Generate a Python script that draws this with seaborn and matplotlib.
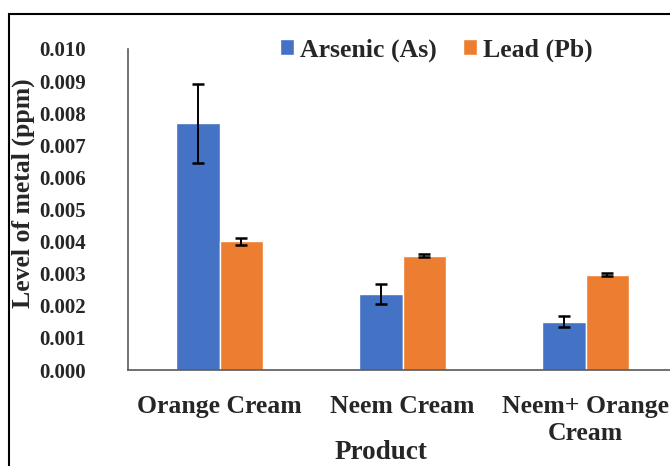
import matplotlib
matplotlib.use("Agg")
import matplotlib.pyplot as plt
import seaborn as sns
import pandas as pd
import numpy as np
from matplotlib.patches import Rectangle

products = ["Orange Cream", "Neem Cream", "Neem+ Orange\nCream"]
metals = ["Arsenic (As)", "Lead (Pb)"]
arsenic = [0.00768, 0.00237, 0.00150]
arsenic_err = [0.00124, 0.00030, 0.00017]
lead = [0.00401, 0.00356, 0.00297]
lead_err = [0.00011, 0.00005, 0.00004]
yticks = [0.000, 0.001, 0.002, 0.003, 0.004, 0.005, 0.006, 0.007, 0.008, 0.009, 0.010]

df = pd.DataFrame({
    "Product": products * 2,
    "Metal": [metals[0]] * 3 + [metals[1]] * 3,
    "Level": arsenic + lead,
})
errs = {metals[0]: arsenic_err, metals[1]: lead_err}

sns.set_style("white")
plt.rcParams["font.family"] = ["Liberation Serif", "DejaVu Serif"]
plt.rcParams["font.weight"] = "bold"

fig = plt.figure(figsize=(6.7, 4.66), dpi=100)
ax = fig.add_axes([128 / 670, 1 - 370 / 466, (677 - 128) / 670, (370 - 49) / 466])

sns.barplot(data=df, x="Product", y="Level", hue="Metal", order=products,
            hue_order=metals, palette=["#4472C4", "#ED7D31"], width=0.47,
            errorbar=None, saturation=1, ax=ax, legend=True)

for cont, m in zip(ax.containers, metals):
    xs = [p.get_x() + p.get_width() / 2 for p in cont.patches]
    hs = [p.get_height() for p in cont.patches]
    ax.errorbar(xs, hs, yerr=errs[m], fmt="none", ecolor="black",
                elinewidth=1.4, capsize=4.2, capthick=1.8, zorder=5)

ax.set_ylim(0, 0.010)
ax.set_xlim(-0.5, 2.5)
ax.set_yticks(yticks)
ax.set_yticklabels([f"{v:.3f}" for v in yticks], fontsize=15, fontweight="bold")
ax.set_xticks(range(3))
ax.set_xticklabels(products, fontsize=18.5, fontweight="bold", linespacing=1.2)
ax.set_xticks([-0.5, 0.5, 1.5, 2.5], minor=True)
ax.tick_params(axis="x", which="major", length=0, pad=18)
ax.tick_params(axis="x", which="minor", length=6, color="#595959", width=1.2, direction="out")
ax.tick_params(axis="y", length=5, color="#595959", width=1.0, direction="out", pad=25)

for s in ["top", "right"]:
    ax.spines[s].set_visible(False)
for s in ["left", "bottom"]:
    ax.spines[s].set_color("#595959")
    ax.spines[s].set_linewidth(1.2)

ax.set_xlabel("Product", fontsize=19.5, fontweight="bold")
ax.xaxis.set_label_coords((381 - 128) / 549, (370 - 440) / 321)
ax.set_ylabel("Level of metal (ppm)", fontsize=18.5, fontweight="bold")
ax.yaxis.set_label_coords((35 - 128) / 549, 0.55)

leg = ax.get_legend()
leg.remove()
handles, labels = ax.get_legend_handles_labels()
fig.legend(handles[:2], labels[:2], loc="center", bbox_to_anchor=(0.651, 0.893),
           ncol=2, frameon=False, prop={"family": "Liberation Serif", "weight": "bold", "size": 18.5},
           handlelength=0.55, handleheight=0.55, handletextpad=0.25, columnspacing=1.0)

fig.add_artist(Rectangle((9 / 670, -0.1), 1.2, 1 - 14 / 466 + 0.1, transform=fig.transFigure,
                         fill=False, edgecolor="black", linewidth=1.5))

fig.savefig("out.png", dpi=100)
